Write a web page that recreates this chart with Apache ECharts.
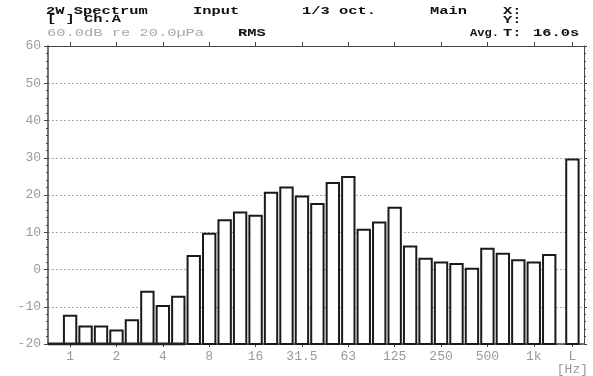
<!DOCTYPE html>
<html><head><meta charset="utf-8">
<script src="https://cdn.jsdelivr.net/npm/echarts@6/dist/echarts.min.js"></script>
<style>html,body{margin:0;padding:0;background:#fff}#c{width:593px;height:376px}</style>
</head><body><div id="c"></div>
<script>
// ---- data ----
const bands = ['1','1.25','1.6','2','2.5','3.15','4','5','6.3','8','10','12.5','16','20','25','31.5','40','50','63','80','100','125','160','200','250','315','400','500','630','800','1k','1.25k'];
const levels = [-12.4,-15.3,-15.3,-16.4,-13.6,-6.0,-9.8,-7.3,3.6,9.6,13.2,15.3,14.4,20.6,22.0,19.6,17.6,23.2,24.8,10.7,12.6,16.6,6.2,2.9,1.9,1.5,0.2,5.6,4.2,2.5,1.9,3.9];
const totalLabel = 'L';
const totalLevel = 29.5;
const tickLabels = ['1','2','4','8','16','31.5','63','125','250','500','1k'];
const yMin = -20, yMax = 60, yStep = 10;
const rangeEndBand = '5';

// ---- layout ----
const XMIN = -1.43, XMAX = 33.25, BAR_W = 0.8;
const lPos = bands.length + 0.5;
const tickPos = tickLabels.map(l => bands.indexOf(l)).concat([lPos]);
const labelFor = v => {
  if (Math.abs(v - lPos) < 0.01) return totalLabel + '\n[Hz]';
  const i = tickLabels.findIndex(l => Math.abs(bands.indexOf(l) - v) < 0.01);
  return i >= 0 ? tickLabels[i] : '';
};
const barData = bands.map((b, i) => [i, levels[i]]).concat([[lPos, totalLevel]]);

const FONT = '"Liberation Mono", "DejaVu Sans Mono", monospace';
const GRAY = '#9a9a9a';
const AX = '#444';

const chart = echarts.init(document.getElementById('c'), null, {renderer: 'canvas'});
function hdr(text, x, y, opt) {
  opt = opt || {};
  return {type: 'text', x: x, y: y, scaleX: opt.sx || 1.4, silent: true,
    style: {text: text, fill: opt.color || '#111', font: (opt.weight || 'bold') + ' ' + (opt.size || 11) + 'px ' + FONT,
      textAlign: 'left', textVerticalAlign: 'middle'}};
}
chart.setOption({
  animation: false,
  backgroundColor: '#fff',
  grid: {left: 48, right: 9, top: 46, bottom: 31, containLabel: false},
  xAxis: [{
    type: 'value', min: XMIN, max: XMAX, position: 'bottom',
    axisLine: {show: true, onZero: false, lineStyle: {color: AX, width: 1.5}},
    axisTick: {show: true, customValues: tickPos, length: 3, lineStyle: {color: AX}},
    axisLabel: {show: true, customValues: tickPos, formatter: labelFor, color: GRAY,
      fontFamily: FONT, fontSize: 13, margin: 6, lineHeight: 13},
    splitLine: {show: false}
  }, {
    type: 'value', min: XMIN, max: XMAX, position: 'top',
    axisLine: {show: true, onZero: false, lineStyle: {color: AX, width: 1}},
    axisTick: {show: true, customValues: tickPos, length: 4, lineStyle: {color: AX}},
    axisLabel: {show: false},
    splitLine: {show: false}
  }],
  yAxis: [{
    type: 'value', min: yMin, max: yMax, interval: yStep, position: 'left',
    axisLine: {show: true, onZero: false, lineStyle: {color: AX, width: 1.5}},
    axisTick: {show: true, length: 4, lineStyle: {color: AX}},
    minorTick: {show: true, splitNumber: 5, length: 2, lineStyle: {color: AX}},
    axisLabel: {color: GRAY, fontFamily: FONT, fontSize: 13, margin: 7},
    splitLine: {show: true, lineStyle: {color: '#aaa', type: [2, 2], width: 1}}
  }, {
    type: 'value', min: yMin, max: yMax, interval: yStep, position: 'right',
    axisLine: {show: true, onZero: false, lineStyle: {color: AX, width: 1}},
    axisTick: {show: true, length: 3, lineStyle: {color: AX}},
    minorTick: {show: true, splitNumber: 5, length: 2, lineStyle: {color: AX}},
    axisLabel: {show: false},
    splitLine: {show: false}
  }],
  series: [{
    type: 'custom', xAxisIndex: 0, yAxisIndex: 0, data: barData,
    encode: {x: 0, y: 1},
    renderItem: function (params, api) {
      const x = api.value(0), v = api.value(1);
      const top = api.coord([x, v]);
      const base = api.coord([x, yMin]);
      const w = api.size([BAR_W, 0])[0];
      return {type: 'rect', shape: {x: top[0] - w / 2, y: top[1], width: w, height: base[1] - top[1]},
        style: {fill: '#fff', stroke: '#1a1a1a', lineWidth: 2}};
    }
  }, {
    type: 'line', xAxisIndex: 0, yAxisIndex: 0, symbol: 'none', silent: true,
    data: [[XMIN, yMin], [bands.indexOf(rangeEndBand) + BAR_W / 2 + 0.05, yMin]],
    lineStyle: {color: '#222', width: 3}
  }],
  graphic: [
    hdr('2W Spectrum', 46, 11),
    hdr('Input', 193, 11),
    hdr('1/3 oct.', 302, 11),
    hdr('Main', 430, 11),
    hdr('X:', 503, 11),
    hdr('[ ] Ch.A', 47, 19),
    hdr('Y:', 503, 20),
    hdr('60.0dB re 20.0µPa', 47, 33, {weight: 'normal', color: '#a8a8a8'}),
    hdr('RMS', 238, 33),
    hdr('Avg.', 470, 33, {sx: 1.1}),
    hdr('T:', 503, 33),
    hdr('16.0s', 533, 33)
  ]
});
</script></body></html>
